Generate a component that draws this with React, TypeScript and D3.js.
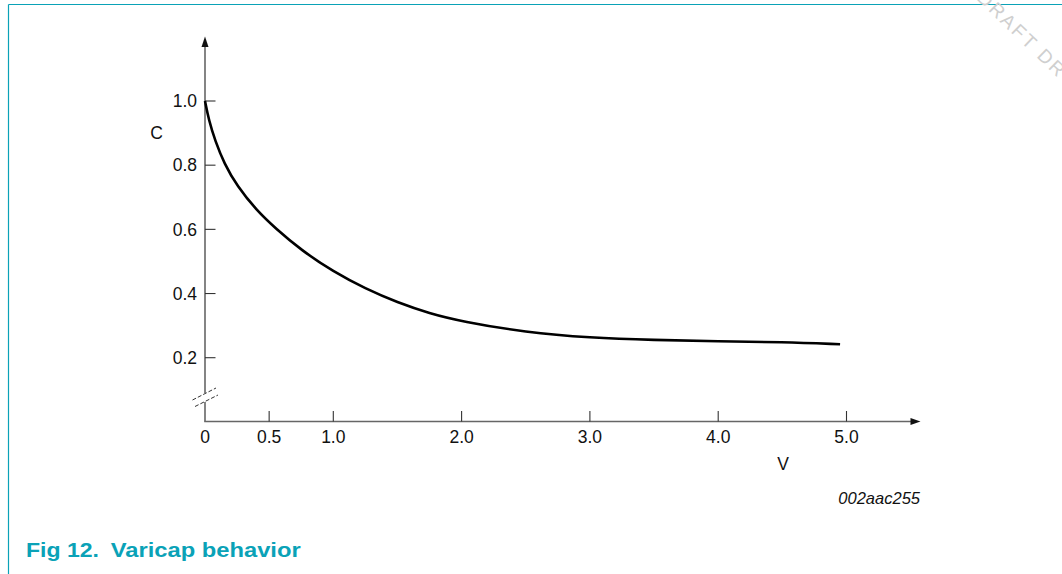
import React from "react";
import * as d3 from "d3";

const voltage = [0, 0.03, 0.08, 0.15, 0.25, 0.4, 0.55, 0.75, 1.0, 1.25, 1.5, 1.75, 2.0, 2.5, 3.0, 3.5, 4.0, 4.5, 4.95];
const capacitance = [1.0, 0.94, 0.875, 0.805, 0.735, 0.66, 0.603, 0.535, 0.468, 0.415, 0.372, 0.338, 0.313, 0.279, 0.262, 0.255, 0.251, 0.249, 0.242];
const xTicks = [0.5, 1.0, 2.0, 3.0, 4.0, 5.0];
const xTickLabels = ["0.5", "1.0", "2.0", "3.0", "4.0", "5.0"];
const yTicks = [0.2, 0.4, 0.6, 0.8, 1.0];
const yTickLabels = ["0.2", "0.4", "0.6", "0.8", "1.0"];

const TEAL = "#0aa2b7";
const FONT = "'Liberation Sans', Arial, Helvetica, sans-serif";

export default function App() {
  const x = d3.scaleLinear().domain([0, 5]).range([205, 846.5]);
  const y = d3.scaleLinear().domain([0.2, 1.0]).range([357.7, 101]);
  const x0 = x(0);
  const yAxis = 421.5;

  const pts = voltage.map((v, i) => [v, capacitance[i]] as [number, number]);
  const line = d3
    .line<[number, number]>()
    .x((d) => x(d[0]))
    .y((d) => y(d[1]))
    .curve(d3.curveBasis);

  return (
    <svg
      width={1062}
      height={574}
      style={{ position: "absolute", left: 0, top: 0, background: "#fff" }}
      fontFamily={FONT}
    >
      {/* frame */}
      <line x1={8.5} y1={4.5} x2={1062} y2={4.5} stroke={TEAL} strokeWidth={1.2} />
      <line x1={8.5} y1={4.5} x2={8.5} y2={574} stroke={TEAL} strokeWidth={1.2} />

      {/* watermark */}
      <text
        x={976}
        y={-1}
        transform="rotate(44 976 -1)"
        fontSize={19}
        letterSpacing={2.5}
        fill="#cfcfcf"
      >
        DRAFT DR
      </text>

      {/* y axis with break */}
      <line x1={x0} y1={44} x2={x0} y2={393} stroke="#666" strokeWidth={1.6} />
      <line x1={x0} y1={402} x2={x0} y2={yAxis} stroke="#666" strokeWidth={1.6} />
      <path d={`M${x0},36.5 L${x0 - 3.5},47 L${x0 + 3.5},47 Z`} fill="#111" />
      <line x1={192.5} y1={400} x2={216} y2={388} stroke="#333" strokeWidth={1} strokeDasharray="4,2" />
      <line x1={195} y1={406.5} x2={218} y2={395} stroke="#333" strokeWidth={1} strokeDasharray="4,2" />

      {/* x axis */}
      <line x1={x0 - 0.8} y1={yAxis} x2={912} y2={yAxis} stroke="#666" strokeWidth={1.6} />
      <path d={`M920.5,${yAxis} L910.5,${yAxis - 3.5} L910.5,${yAxis + 3.5} Z`} fill="#111" />

      {/* y ticks */}
      {yTicks.map((t, i) => (
        <g key={"y" + i}>
          <line x1={x0} y1={y(t)} x2={x0 + 10.5} y2={y(t)} stroke="#333" strokeWidth={1.1} />
          <text x={197} y={y(t) + 6.3} textAnchor="end" fontSize={17.5} fill="#111">
            {yTickLabels[i]}
          </text>
        </g>
      ))}

      {/* x ticks */}
      {xTicks.map((t, i) => (
        <g key={"x" + i}>
          <line x1={x(t)} y1={yAxis} x2={x(t)} y2={yAxis - 10.5} stroke="#333" strokeWidth={1.1} />
          <text x={x(t)} y={443} textAnchor="middle" fontSize={17.5} fill="#111">
            {xTickLabels[i]}
          </text>
        </g>
      ))}
      <text x={x0} y={443} textAnchor="middle" fontSize={17.5} fill="#111">
        0
      </text>

      {/* axis titles */}
      <text x={156.5} y={139.3} textAnchor="middle" fontSize={17.5} fill="#111">
        C
      </text>
      <text x={783} y={470} textAnchor="middle" fontSize={17.5} fill="#111">
        V
      </text>
      <text x={920} y={504} textAnchor="end" fontSize={16.5} fontStyle="italic" fill="#111">
        002aac255
      </text>

      {/* curve */}
      <path d={line(pts) || ""} fill="none" stroke="#000" strokeWidth={2.6} />

      {/* caption */}
      <text x={26} y={557.3} fontSize={21} fontWeight="bold" fill={TEAL} textLength={73} lengthAdjust="spacingAndGlyphs">
        Fig 12.
      </text>
      <text x={110.7} y={557.3} fontSize={21} fontWeight="bold" fill={TEAL} textLength={190} lengthAdjust="spacingAndGlyphs">
        Varicap behavior
      </text>
    </svg>
  );
}
